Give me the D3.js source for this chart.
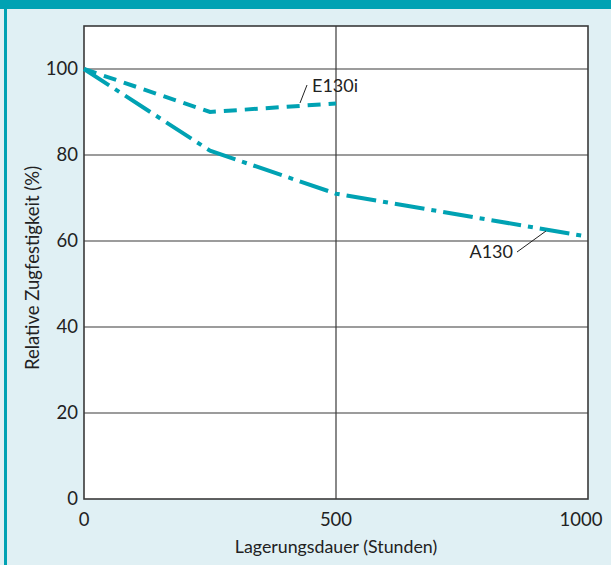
<!DOCTYPE html>
<html>
<head>
<meta charset="utf-8">
<script src="https://cdn.jsdelivr.net/npm/d3@7"></script>
<style>
  html, body { margin: 0; padding: 0; background: #e0f0f4; }
  svg { display: block; }
</style>
</head>
<body>
<div id="chart"></div>
<script>
// data
const hours = [0, 250, 500, 1000];
const e130i = [100, 90, 92];
const a130 = [100, 81, 71, 61];
const xTicks = [0, 500, 1000];
const yTicks = [0, 20, 40, 60, 80, 100];

const width = 611, height = 565;
const teal = '#00a2b3';
const grid = '#3a3a3a';
const font = 'Lato, "Open Sans", sans-serif';

const svg = d3.select('#chart').append('svg')
    .attr('width', width)
    .attr('height', height);

// background + frame bits
svg.append('rect').attr('width', width).attr('height', height).attr('fill', '#e0f0f4');
svg.append('rect').attr('x', 0).attr('y', 0).attr('width', width).attr('height', 9).attr('fill', teal);
svg.append('rect').attr('x', 4).attr('y', 9).attr('width', 3).attr('height', height - 9).attr('fill', teal);

const x = d3.scaleLinear().domain([0, 1000]).range([84, 588]);
const y = d3.scaleLinear().domain([0, 110]).range([499, 26]);

// plot area
svg.append('rect')
    .attr('x', x(0)).attr('y', y(110))
    .attr('width', x(1000) - x(0)).attr('height', y(0) - y(110))
    .attr('fill', '#fff');

// grid lines
svg.selectAll('.hgrid')
    .data(yTicks.filter(d => d > 0))
    .enter().append('line')
    .attr('x1', x(0)).attr('x2', x(1000))
    .attr('y1', d => y(d)).attr('y2', d => y(d))
    .attr('stroke', grid).attr('stroke-width', 1.2);

svg.append('line')
    .attr('x1', x(500)).attr('x2', x(500))
    .attr('y1', y(0)).attr('y2', y(110))
    .attr('stroke', grid).attr('stroke-width', 1.2);

// frame
svg.append('rect')
    .attr('x', x(0)).attr('y', y(110))
    .attr('width', x(1000) - x(0)).attr('height', y(0) - y(110))
    .attr('fill', 'none')
    .attr('stroke', grid).attr('stroke-width', 1.6);

// tick labels
svg.selectAll('.ylab')
    .data(yTicks)
    .enter().append('text')
    .attr('x', 78)
    .attr('y', d => y(d))
    .attr('dy', '0.35em')
    .attr('text-anchor', 'end')
    .style('font-family', font)
    .style('font-size', '18.5px')
    .style('fill', '#222')
    .text(d => d);

svg.selectAll('.xlab')
    .data(xTicks)
    .enter().append('text')
    .attr('x', d => d === 1000 ? x(d) - 7 : x(d))
    .attr('y', 526)
    .attr('text-anchor', 'middle')
    .style('font-family', font)
    .style('font-size', '18.5px')
    .style('fill', '#222')
    .text(d => d);

// axis titles
svg.append('text')
    .attr('x', 336).attr('y', 553)
    .attr('text-anchor', 'middle')
    .style('font-family', font)
    .style('font-size', '17.8px')
    .style('fill', '#222')
    .text('Lagerungsdauer (Stunden)');

svg.append('text')
    .attr('transform', 'translate(39,268) rotate(-90)')
    .attr('text-anchor', 'middle')
    .style('font-family', font)
    .style('font-size', '18.5px')
    .style('fill', '#222')
    .text('Relative Zugfestigkeit (%)');

// series
const line = d3.line()
    .x((d, i) => x(hours[i]))
    .y(d => y(d));

svg.append('path')
    .datum(e130i)
    .attr('d', line)
    .attr('fill', 'none')
    .attr('stroke', teal)
    .attr('stroke-width', 4)
    .attr('stroke-dasharray', '13,8');

svg.append('path')
    .datum(a130)
    .attr('d', line)
    .attr('fill', 'none')
    .attr('stroke', teal)
    .attr('stroke-width', 4)
    .attr('stroke-dasharray', '30,7,5,7');

// series labels with leader lines
svg.append('line')
    .attr('x1', 300).attr('y1', 103).attr('x2', 307).attr('y2', 85)
    .attr('stroke', '#222').attr('stroke-width', 1);
svg.append('text')
    .attr('x', 312).attr('y', 92)
    .style('font-family', font)
    .style('font-size', '18px')
    .style('fill', '#222')
    .text('E130i');

svg.append('line')
    .attr('x1', 517).attr('y1', 252).attr('x2', 546).attr('y2', 231)
    .attr('stroke', '#222').attr('stroke-width', 1);
svg.append('text')
    .attr('x', 513).attr('y', 258)
    .attr('text-anchor', 'end')
    .style('font-family', font)
    .style('font-size', '18px')
    .style('fill', '#222')
    .text('A130');
</script>
</body>
</html>
